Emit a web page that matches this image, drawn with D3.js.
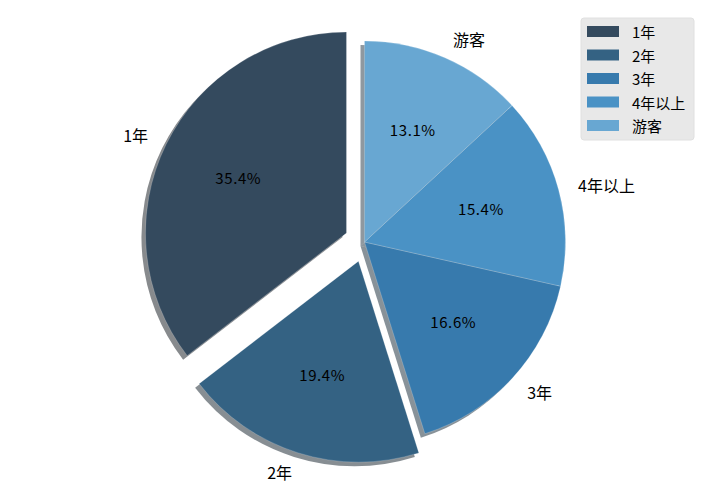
<!DOCTYPE html>
<html><head><meta charset="utf-8">
<script src="https://cdn.jsdelivr.net/npm/d3@7"></script>
<style>body{margin:0;background:#fff}svg{display:block}</style>
</head><body>
<svg id="chart" width="712" height="496"></svg>
<script>
const categories = ["1年", "2年", "3年", "4年以上", "游客"];
const values = [35.4, 19.4, 16.6, 15.4, 13.1];
const colors = ["#344a5e", "#346283", "#377aad", "#4a92c5", "#68a7d2"];
const explode = [0.1, 0.1, 0, 0, 0];

const svg = d3.select("#chart");
const cx = 364.5, cy = 242, R = 201;
const font = "'Noto Sans CJK SC', 'DejaVu Sans', sans-serif";

const pie = d3.pie().sort(null).startAngle(0).endAngle(-2 * Math.PI);
const arcs = pie(values);
const arc = d3.arc().innerRadius(0).outerRadius(R);

arcs.forEach((d, i) => {
  const mid = (d.startAngle + d.endAngle) / 2;
  d.mid = mid;
  d.ox = cx + explode[i] * R * Math.sin(mid);
  d.oy = cy - explode[i] * R * Math.cos(mid);
});

// shadows
const shadowG = svg.append("g");
arcs.forEach((d, i) => {
  const c = d3.rgb(colors[i]);
  shadowG.append("path")
    .attr("d", arc(d))
    .attr("transform", `translate(${d.ox - 0.02 * R},${d.oy + 0.02 * R})`)
    .attr("fill", d3.rgb(c.r * 0.3, c.g * 0.3, c.b * 0.3))
    .attr("opacity", 0.5);
});

// wedges
const wedgeG = svg.append("g");
arcs.forEach((d, i) => {
  wedgeG.append("path")
    .attr("d", arc(d))
    .attr("transform", `translate(${d.ox},${d.oy})`)
    .attr("fill", colors[i])
    .attr("stroke", "#ffffff")
    .attr("stroke-opacity", 0.25)
    .attr("stroke-width", 0.8);
});

// labels
arcs.forEach((d, i) => {
  const lx = d.ox + 1.1 * R * Math.sin(d.mid);
  const ly = d.oy - 1.1 * R * Math.cos(d.mid);
  svg.append("text")
    .attr("x", lx).attr("y", ly)
    .attr("text-anchor", Math.sin(d.mid) < 0 ? "end" : "start")
    .attr("dominant-baseline", "central")
    .attr("font-family", font).attr("font-size", 16).attr("fill", "#000")
    .text(categories[i]);
  const px = d.ox + 0.6 * R * Math.sin(d.mid);
  const py = d.oy - 0.6 * R * Math.cos(d.mid) - 2;
  svg.append("text")
    .attr("x", px).attr("y", py)
    .attr("text-anchor", "middle")
    .attr("dominant-baseline", "central")
    .attr("font-family", font).attr("font-size", 15).attr("fill", "#000")
    .attr("letter-spacing", 0.6)
    .text(values[i].toFixed(1) + "%");
});

// legend
const lg = svg.append("g").attr("transform", "translate(581,18)");
lg.append("rect").attr("width", 113).attr("height", 122).attr("rx", 3)
  .attr("fill", "#e8e8e8").attr("stroke", "#e0e0e0");
categories.forEach((c, i) => {
  const y = 8 + i * 23.5;
  lg.append("rect").attr("x", 6).attr("y", y).attr("width", 32).attr("height", 11)
    .attr("fill", colors[i]);
  lg.append("text").attr("x", 51).attr("y", y + 5.5)
    .attr("dominant-baseline", "central")
    .attr("font-family", font).attr("font-size", 15).attr("fill", "#000")
    .text(c);
});
</script>
</body></html>
